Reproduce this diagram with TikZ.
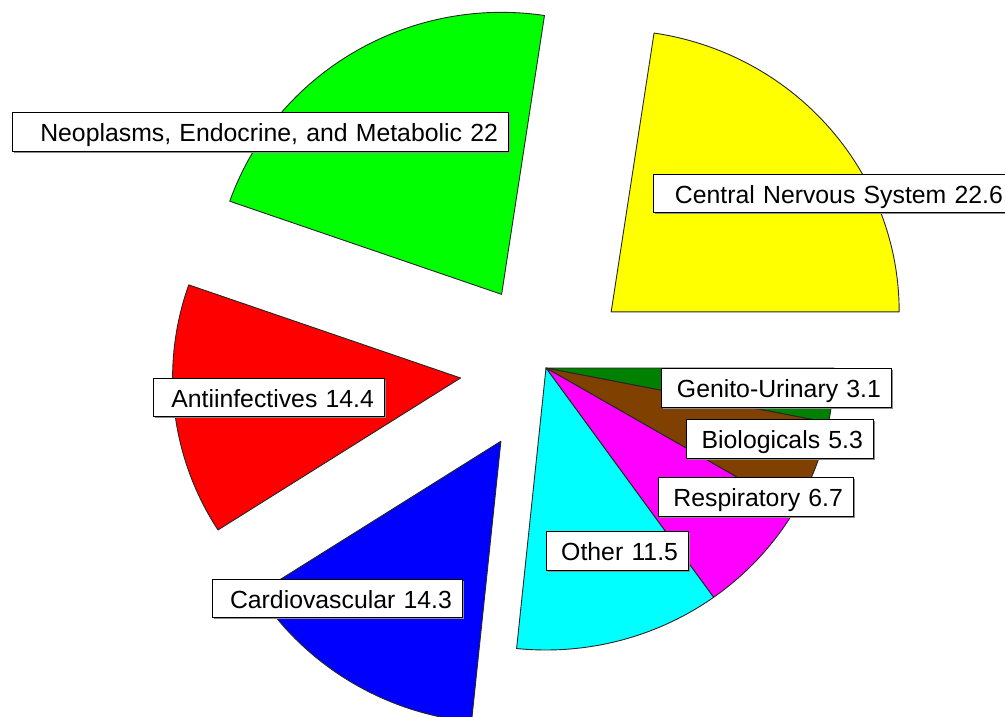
\documentclass[tikz,border=0pt]{standalone}
\usepackage{fontspec}
\setmainfont{Liberation Sans}
\usetikzlibrary{shadows}
\definecolor{cnsY}{RGB}{255,255,0}
\definecolor{neoG}{RGB}{0,255,0}
\definecolor{antiR}{RGB}{255,0,0}
\definecolor{cardB}{RGB}{0,0,255}
\definecolor{othC}{RGB}{0,255,255}
\definecolor{respM}{RGB}{255,0,255}
\definecolor{bioBr}{RGB}{128,64,0}
\definecolor{guG}{RGB}{0,128,0}
\newcommand\pieslice[4]{%
  \pgfmathsetmacro\slmid{(#2+#3)/2}%
  \pgfmathsetmacro\slx{288*cos(#2)}%
  \pgfmathsetmacro\sly{282*sin(#2)}%
  \filldraw[slicestyle, fill=#1] (C) ++(\slmid:#4) -- ++(\slx,\sly) arc[start angle=#2, end angle=#3, x radius=288, y radius=282] -- cycle;%
}
\tikzset{
  slicestyle/.style={draw=black!85, line width=0.9pt, line join=round},
  lbl/.style={draw=black, line width=0.9pt, fill=white, anchor=north west,
    drop shadow={shadow xshift=2pt, shadow yshift=-2pt, fill=black!45, opacity=1},
    inner xsep=10.5pt, inner ysep=0pt, text height=29.5pt, text depth=9pt,
    align=right, font=\fontsize{24.8}{30}\selectfont, text width=#1pt}
}
\begin{document}
\begin{tikzpicture}[x=1pt,y=-1pt]
\useasboundingbox (0,0) rectangle (1005,717);
\clip (0,0) rectangle (1005,717);
\coordinate (C) at (546,368);
% unexploded slices
\pieslice{guG}{0}{11.17}{0}
\pieslice{bioBr}{11.17}{30.27}{0}
\pieslice{respM}{30.27}{54.41}{0}
\pieslice{othC}{54.41}{95.86}{0}
% exploded slices
\pieslice{cardB}{95.86}{147.39}{86}
\pieslice{antiR}{147.39}{199.28}{86}
\pieslice{neoG}{199.28}{278.56}{86}
\pieslice{cnsY}{278.56}{360}{86}
% labels
\node[lbl=475] (lneo) at (12,112) {Neoplasms, Endocrine, and Metabolic 22};
\node[lbl=339] (lcns) at (653,173.5) {Central Nervous System 22.6};
\node[lbl=210] (lanti) at (153,377.5) {Antiinfectives 14.4};
\node[lbl=229] (lcard) at (212,578.5) {Cardiovascular 14.3};
\node[lbl=209] (lgu) at (661,368) {Genito-Urinary 3.1};
\node[lbl=166] (lbio) at (686,419) {Biologicals 5.3};
\node[lbl=174] (lresp) at (658,477) {Respiratory 6.7};
\node[lbl=121] (loth) at (546,531) {Other 11.5};
\end{tikzpicture}
\end{document}
